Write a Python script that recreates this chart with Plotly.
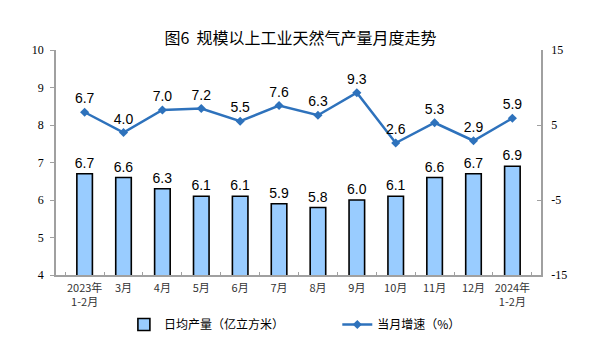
import plotly.graph_objects as go

categories = ["2023年<br>1-2月", "3月", "4月", "5月", "6月", "7月", "8月", "9月", "10月", "11月", "12月", "2024年<br>1-2月"]
daily_output = [6.7, 6.6, 6.3, 6.1, 6.1, 5.9, 5.8, 6.0, 6.1, 6.6, 6.7, 6.9]
growth = [6.7, 4.0, 7.0, 7.2, 5.5, 7.6, 6.3, 9.3, 2.6, 5.3, 2.9, 5.9]
left_ticks = [4, 5, 6, 7, 8, 9, 10]
right_ticks = [-15, -5, 5, 15]

fig = go.Figure()
fig.add_trace(go.Bar(
    x=categories, y=daily_output, name="日均产量（亿立方米）",
    marker=dict(color="#99CCFF", line=dict(color="#000000", width=1.6)),
    text=[f"{v:.1f}" for v in daily_output], textposition="outside",
    constraintext="none",
    textfont=dict(family="Liberation Sans, Arial", size=14, color="#000"),
    cliponaxis=False, width=0.4, legend="legend",
))
fig.add_trace(go.Scatter(
    x=categories, y=growth, name="当月增速（%）", yaxis="y2",
    mode="lines+markers+text",
    line=dict(color="#2E72BC", width=2.5),
    marker=dict(symbol="diamond", size=7, color="#2E72BC"),
    text=[f"{v:.1f}" for v in growth], textposition="top center",
    textfont=dict(family="Liberation Sans, Arial", size=14, color="#000"),
    cliponaxis=False, legend="legend2",
))

legend_common = dict(orientation="h", y=-0.22, yanchor="middle", xanchor="left",
                     font=dict(family="Noto Sans CJK SC", size=12, color="#000"),
                     bgcolor="rgba(0,0,0,0)", itemwidth=30)

fig.update_layout(
    width=601, height=353,
    margin=dict(l=56, r=60, t=50, b=78),
    paper_bgcolor="white", plot_bgcolor="white",
    title=dict(text="图6  规模以上工业天然气产量月度走势", x=0.5, xanchor="center", y=0.89, yanchor="middle",
               font=dict(family="Noto Sans CJK SC", size=16, color="#000")),
    showlegend=True,
    legend=dict(x=0.14, **legend_common),
    legend2=dict(x=0.58, **legend_common),
    xaxis=dict(showline=True, linecolor="#A0A0A0", linewidth=1.5, ticks="inside", tickson="boundaries",
               ticklen=3, tickcolor="#A0A0A0", ticklabelstandoff=2, tickangle=0,
               tickfont=dict(family="Noto Sans CJK SC", size=11, color="#333"),
               showgrid=False),
    yaxis=dict(range=[4, 10], tickvals=left_ticks, showline=True, linecolor="#A0A0A0", linewidth=1.5,
               ticks="outside", ticklen=4, tickcolor="#A0A0A0", showgrid=False, zeroline=False,
               ticklabelstandoff=4,
               tickfont=dict(family="Liberation Serif, Times New Roman", size=12, color="#000")),
    yaxis2=dict(range=[-15, 15], tickvals=right_ticks, ticktext=[str(v) for v in right_ticks],
                overlaying="y", side="right", showline=True,
                linecolor="#A0A0A0", linewidth=1.5, ticks="inside", ticklen=4, tickcolor="#A0A0A0",
                showgrid=False, zeroline=False, ticklabelstandoff=6,
                tickfont=dict(family="Liberation Serif, Times New Roman", size=12, color="#000")),
)

fig.write_html("out.html")
